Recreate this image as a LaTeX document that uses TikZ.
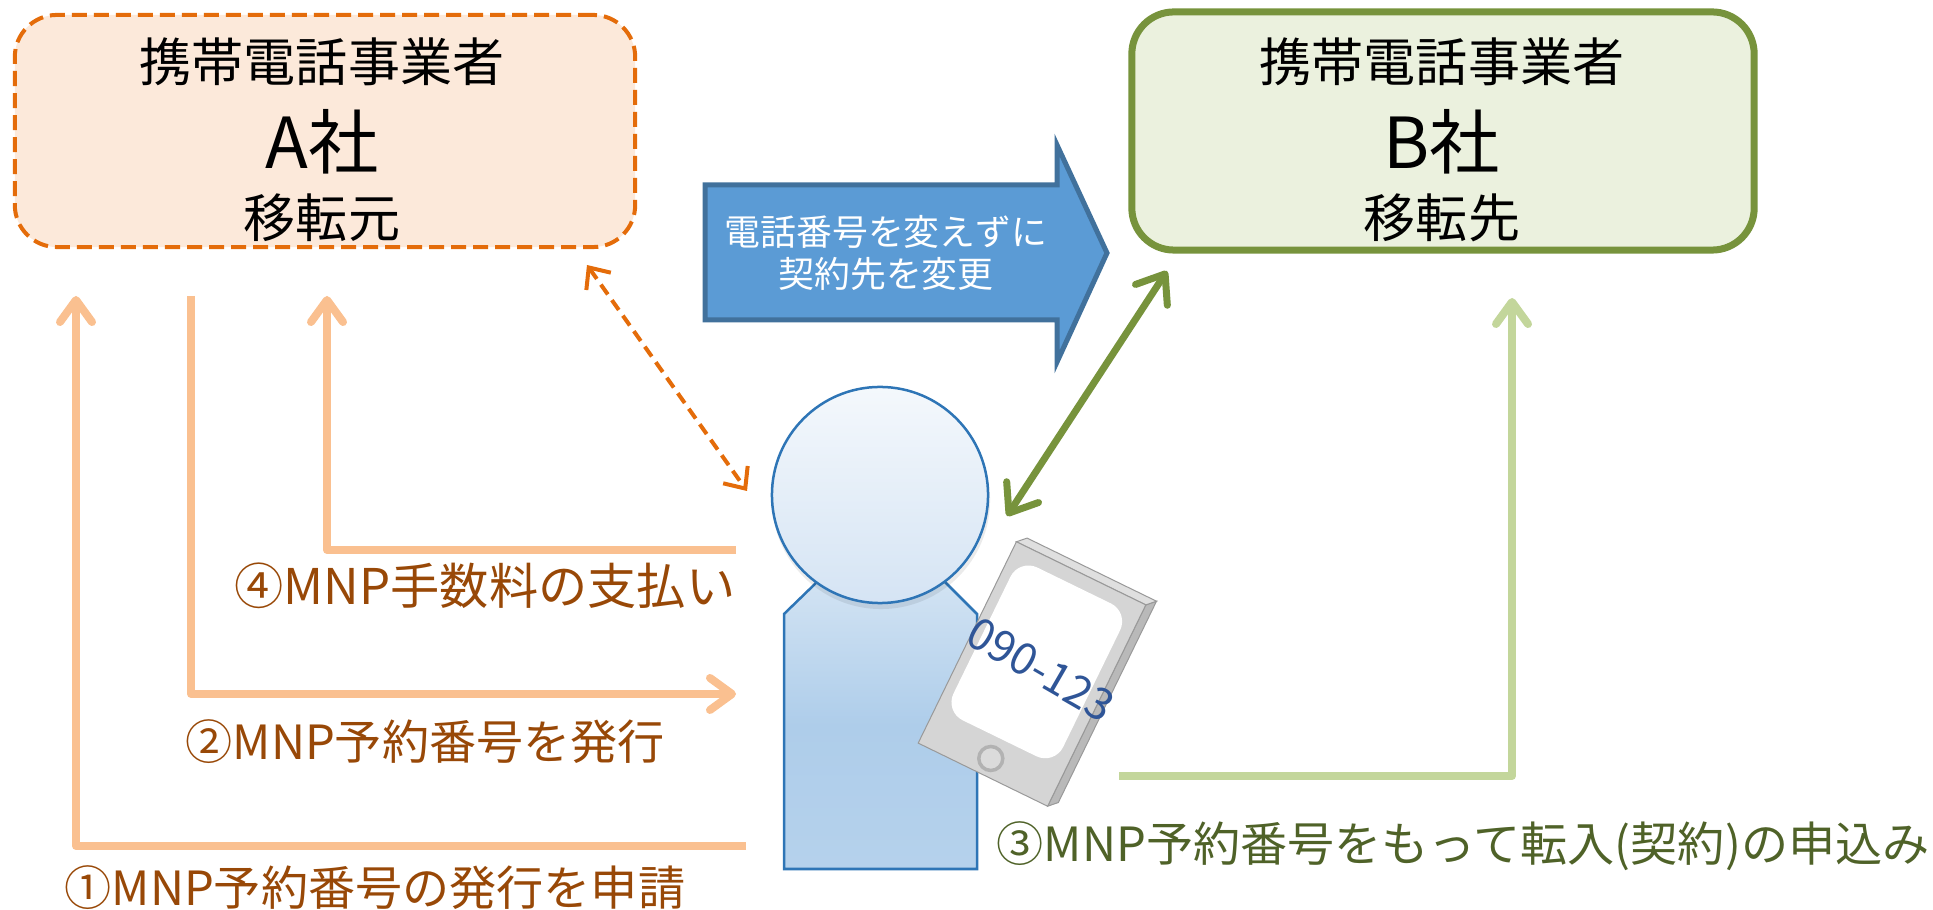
\documentclass[tikz,border=0pt]{standalone}
\usepackage{fontspec}
\setmainfont{Noto Sans CJK JP}
\usetikzlibrary{arrows.meta,positioning,calc}
\definecolor{OrgLine}{HTML}{E46C0A}
\definecolor{OrgFill}{HTML}{FCE9DA}
\definecolor{OrgArrow}{HTML}{FAC090}
\definecolor{OrgText}{HTML}{984807}
\definecolor{GrnLine}{HTML}{77933C}
\definecolor{GrnFill}{HTML}{EBF1DE}
\definecolor{GrnArrow}{HTML}{C3D69B}
\definecolor{GrnText}{HTML}{4F6228}
\definecolor{BlueFill}{HTML}{5B9BD5}
\definecolor{BlueLine}{HTML}{41719C}
\definecolor{PersonLine}{HTML}{2E75B6}
\definecolor{HeadTop}{HTML}{F4F8FC}
\definecolor{HeadBot}{HTML}{D5E4F4}
\definecolor{BodyTop}{HTML}{D2E3F3}
\definecolor{BodyBot}{HTML}{AECDEA}
\definecolor{NumBlue}{HTML}{2F5597}
\tikzset{
  company/.style={rounded corners=0.42cm, inner sep=0pt},
  barb/.style={-{Straight Barb[length=0.22cm,width=0.32cm,round]}},
  flowline/.style={barb, line width=0.08cm, line join=round},
  steplabel/.style={font=\fontsize{13.4}{15}\selectfont, inner sep=0pt},
}

\begin{document}
\begin{tikzpicture}[x=0.01cm,y=-0.01cm]
\useasboundingbox (0,0) rectangle (1933,910);
\node[company, draw=OrgLine, fill=OrgFill, line width=0.04cm, dash pattern=on 0.15cm off 0.07cm,
  minimum width=6.2cm, minimum height=2.32cm] (opA) at (325,131) {};
\node[company, draw=GrnLine, fill=GrnFill, line width=0.07cm,
  minimum width=6.22cm, minimum height=2.38cm] (opB) at (1443,131) {};
\foreach \cx/\nm/\role in {322/A/移転元,1442/B/移転先}{
  \node[font=\fontsize{14.8}{16}\selectfont] (carrier\nm) at (\cx,62) {携帯電話事業者};
  \node[font=\fontsize{20}{22}\selectfont] (name\nm) at (\cx,142) {\nm 社};
  \node[font=\fontsize{14.8}{16}\selectfont] (role\nm) at (\cx,218) {\role};
}
\path[draw=BlueLine, fill=BlueFill, line width=0.05cm, line join=miter]
  (705,185) -- (1057,185) -- (1057,145) -- (1107,253) -- (1057,362) -- (1057,320) -- (705,320) -- cycle;
\node[text=white, font=\fontsize{10.2}{12.2}\selectfont, align=center] (swap) at (886,253) {電話番号を変えずに\\契約先を変更};
\coordinate (a1) at (76,296);
\coordinate (a2) at (191,296);
\coordinate (a4) at (327,296);
\coordinate (p1) at (746,846);
\coordinate (p2) at (736,694);
\coordinate (p4) at (736,550);
\coordinate (p3) at (1119,776);
\coordinate (b3) at (1512,298);
\draw[flowline, OrgArrow] (p1) -| (a1);
\draw[flowline, OrgArrow] (a2) |- (p2);
\draw[flowline, OrgArrow] (p4) -| (a4);
\draw[flowline, GrnArrow] (p3) -| (b3);
\coordinate (dA) at (587,265);
\coordinate (dP) at (747,491);
\draw[OrgLine, line width=0.04cm, dash pattern=on 0.12cm off 0.07cm,
  {Straight Barb[length=0.17cm,width=0.3cm]}-{Straight Barb[length=0.17cm,width=0.3cm]}] (dA) -- (dP);
\coordinate (gB) at (1167,271);
\coordinate (gP) at (1007,516);
\draw[GrnLine, line width=0.07cm, {Straight Barb[length=0.25cm,width=0.38cm,round]}-{Straight Barb[length=0.25cm,width=0.38cm,round]}] (gB) -- (gP);
\path[draw=PersonLine, line width=0.025cm, top color=BodyTop, bottom color=BodyBot!80!BodyTop, middle color=BodyBot]
  (784,869) -- (784,614) -- (817,582) -- (945,582) -- (977,614) -- (977,869) -- cycle;
\fill[black, opacity=0.08] (881,500) circle[radius=1.09cm];
\node[circle, draw=PersonLine, line width=0.025cm, minimum size=2.16cm, inner sep=0pt,
  top color=HeadTop, bottom color=HeadBot] (head) at (880,495) {};
\begin{scope}[shift={(1032,674)}, rotate=-26]
  \path[draw=gray!80, fill=gray!55, line width=0.01cm] (72,-112) -- (80,-120) -- (80,104) -- (72,112) -- cycle;
  \path[draw=gray!80, fill=gray!25, line width=0.01cm] (-72,-112) -- (-64,-120) -- (80,-120) -- (72,-112) -- cycle;
  \path[draw=gray!80, fill=gray!33, line width=0.01cm] (-72,-112) rectangle (72,112);
  \path[fill=white, rounded corners=0.2cm] (-62,-98) rectangle (60,72);
  \node[circle, draw=gray!60, fill=gray!28, line width=0.035cm, minimum size=0.24cm, inner sep=0pt] (homekey) at (0,94) {};
  \node[rotate=-30, text=NumBlue, font=\fontsize{12.5}{13}\selectfont] (phonenum) at (6,-8) {090-123};
\end{scope}
\node[steplabel, text=OrgText, anchor=east, font=\fontsize{14}{15}\selectfont] (lbl4) at (736,586) {④MNP手数料の支払い};
\node[steplabel, text=OrgText, anchor=west] (lbl2) at (185,742) {②MNP予約番号を発行};
\node[steplabel, text=OrgText, anchor=west] (lbl1) at (64,888) {①MNP予約番号の発行を申請};
\node[steplabel, text=GrnText, anchor=west] (lbl3) at (996,846) {③MNP予約番号をもって転入(契約)の申込み};
\end{tikzpicture}
\end{document}
